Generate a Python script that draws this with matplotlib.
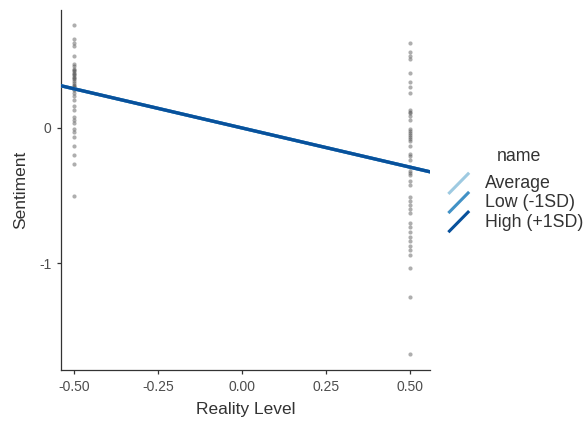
import matplotlib
matplotlib.use('Agg')
import matplotlib.pyplot as plt
import numpy as np
from matplotlib.legend_handler import HandlerBase
from matplotlib.lines import Line2D

plt.rcParams['font.family'] = ['Liberation Sans', 'DejaVu Sans']

# Observed sentiment at the two reality levels
low_level_sentiment = [0.76, 0.66, 0.63, 0.61, 0.53, 0.47, 0.46, 0.44, 0.43, 0.42, 0.41,
                       0.40, 0.39, 0.38, 0.37, 0.36, 0.35, 0.33, 0.32, 0.31, 0.30, 0.29,
                       0.28, 0.26, 0.24, 0.21, 0.16, 0.13, 0.08, 0.06, 0.04, -0.01,
                       -0.03, -0.07, -0.13, -0.20, -0.27, -0.50]
high_level_sentiment = [0.63, 0.56, 0.53, 0.51, 0.41, 0.34, 0.30, 0.26, 0.13, 0.12, 0.11,
                        0.09, 0.06, -0.01, -0.02, -0.04, -0.05, -0.07, -0.08, -0.10,
                        -0.13, -0.19, -0.21, -0.24, -0.29, -0.32, -0.33, -0.35, -0.39,
                        -0.42, -0.51, -0.54, -0.57, -0.60, -0.63, -0.70, -0.73, -0.77,
                        -0.81, -0.84, -0.87, -0.90, -0.94, -1.04, -1.25, -1.67]
levels = [-0.5, 0.5]

# Fitted simple slopes for each moderator level
group_names = ['Average', 'Low (-1SD)', 'High (+1SD)']
group_intercepts = [0.0, 0.0, 0.0]
group_slopes = [-0.58, -0.58, -0.58]
group_colors = ['#9ecae1', '#4292c6', '#08519c']


class DiagonalKey(HandlerBase):
    # ggplot-style abline key: a short diagonal stroke
    def create_artists(self, legend, orig_handle, xdescent, ydescent,
                       width, height, fontsize, trans):
        line = Line2D([0.05 * width, 0.95 * width], [-0.45 * height, 1.25 * height],
                      color=orig_handle.get_color(), linewidth=2.2,
                      solid_capstyle='butt', transform=trans)
        return [line]


fig = plt.figure(figsize=(5.86, 4.30), dpi=100)
ax = fig.add_axes([0.104, 0.140, 0.630, 0.837])

ax.scatter(np.full(len(low_level_sentiment), levels[0]), low_level_sentiment,
           s=9, color='#4d4d4d', alpha=0.45, linewidths=0, zorder=2)
ax.scatter(np.full(len(high_level_sentiment), levels[1]), high_level_sentiment,
           s=9, color='#4d4d4d', alpha=0.45, linewidths=0, zorder=2)

xs = np.array([-0.6, 0.6])
handles = []
for name, b0, b1, col in zip(group_names, group_intercepts, group_slopes, group_colors):
    h, = ax.plot(xs, b0 + b1 * xs, color=col, linewidth=2.4, label=name, zorder=3)
    handles.append(h)

ax.set_xlim(-0.539, 0.56)
ax.set_ylim(-1.79, 0.874)
ax.set_xticks([-0.5, -0.25, 0, 0.25, 0.5])
ax.set_xticklabels(['-0.50', '-0.25', '0.00', '0.25', '0.50'])
ax.set_yticks([-1, 0])
ax.set_yticklabels(['-1', '0'])

for side in ['top', 'right']:
    ax.spines[side].set_visible(False)
for side in ['left', 'bottom']:
    ax.spines[side].set_color('#333333')
    ax.spines[side].set_linewidth(0.9)
ax.tick_params(axis='both', length=3, width=0.9, color='#333333',
               labelsize=10, labelcolor='#4d4d4d', pad=4)

ax.set_xlabel('Reality Level', fontsize=12.5, color='#333333', labelpad=6)
ax.set_ylabel('Sentiment', fontsize=12.5, color='#333333', labelpad=8)

leg = fig.legend(handles, group_names, loc='center left',
                 bbox_to_anchor=(0.751, 0.528), frameon=False,
                 handler_map={Line2D: DiagonalKey()}, fontsize=12.8,
                 handlelength=1.3, handletextpad=0.83,
                 labelspacing=0.12, borderaxespad=0)
for t in leg.get_texts():
    t.set_color('#333333')
fig.text(0.886, 0.635, 'name', fontsize=12.8, color='#333333',
         ha='center', va='center')

fig.savefig('out.png', dpi=100, facecolor='white')
